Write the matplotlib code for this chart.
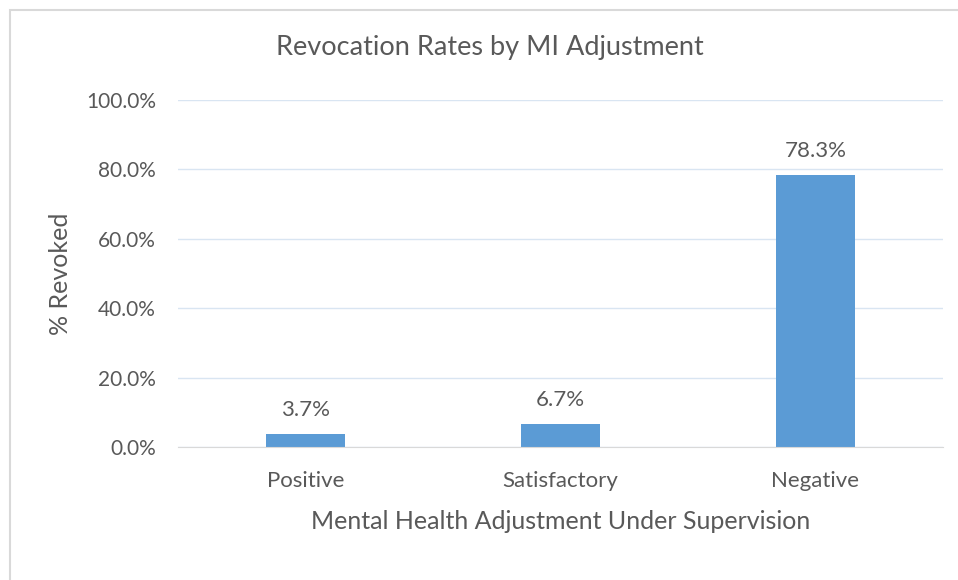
import matplotlib
matplotlib.use('Agg')
import matplotlib.pyplot as plt
from matplotlib.patches import Rectangle

categories = ['Positive', 'Satisfactory', 'Negative']
revoked_pct = [3.7, 6.7, 78.3]
y_ticks = [0, 20, 40, 60, 80, 100]

text_col = '#595959'
bar_col = '#5B9BD5'
plt.rcParams['font.family'] = ['Lato', 'DejaVu Sans']

fig = plt.figure(figsize=(9.58, 5.8), dpi=100)
ax = fig.add_axes([178/958, 133/580, 765/958, 347/580])

# chart border (Excel style frame)
fig.patches.append(Rectangle((10/958, -0.05), 1.2, (570/580) + 0.05, transform=fig.transFigure,
                             fill=False, edgecolor='#D9D9D9', linewidth=1.5))

x = range(len(categories))
bars = ax.bar(x, revoked_pct, width=0.31, color=bar_col, zorder=3)
for xi, v in zip(x, revoked_pct):
    ax.annotate('{:.1f}%'.format(v), (xi, v), xytext=(0, 10), textcoords='offset points',
                ha='center', va='bottom', fontsize=16, color=text_col)

ax.set_xlim(-0.5, 2.5)
ax.set_ylim(0, 100)
ax.set_yticks(y_ticks)
ax.set_yticklabels(['{:.1f}%'.format(t) for t in y_ticks])
ax.set_xticks(list(x))
ax.set_xticklabels(categories)
ax.tick_params(axis='y', length=0, labelsize=15, colors=text_col, pad=16)
ax.tick_params(axis='x', length=0, labelsize=16, colors=text_col, pad=17)
ax.grid(axis='y', color='#D9E5F2', linewidth=1, zorder=0)
for s in ['top', 'right', 'left']:
    ax.spines[s].set_visible(False)
ax.spines['bottom'].set_color('#D9D9D9')
ax.spines['bottom'].set_zorder(4)

ax.set_ylabel('% Revoked', fontsize=18, color=text_col, labelpad=10)
ax.set_xlabel('Mental Health Adjustment Under Supervision', fontsize=18, color=text_col, labelpad=14)
fig.text(490/958, 1 - 48/580, 'Revocation Rates by MI Adjustment', ha='center', va='center',
         fontsize=19.5, color=text_col)

fig.savefig('out.png', dpi=100)
